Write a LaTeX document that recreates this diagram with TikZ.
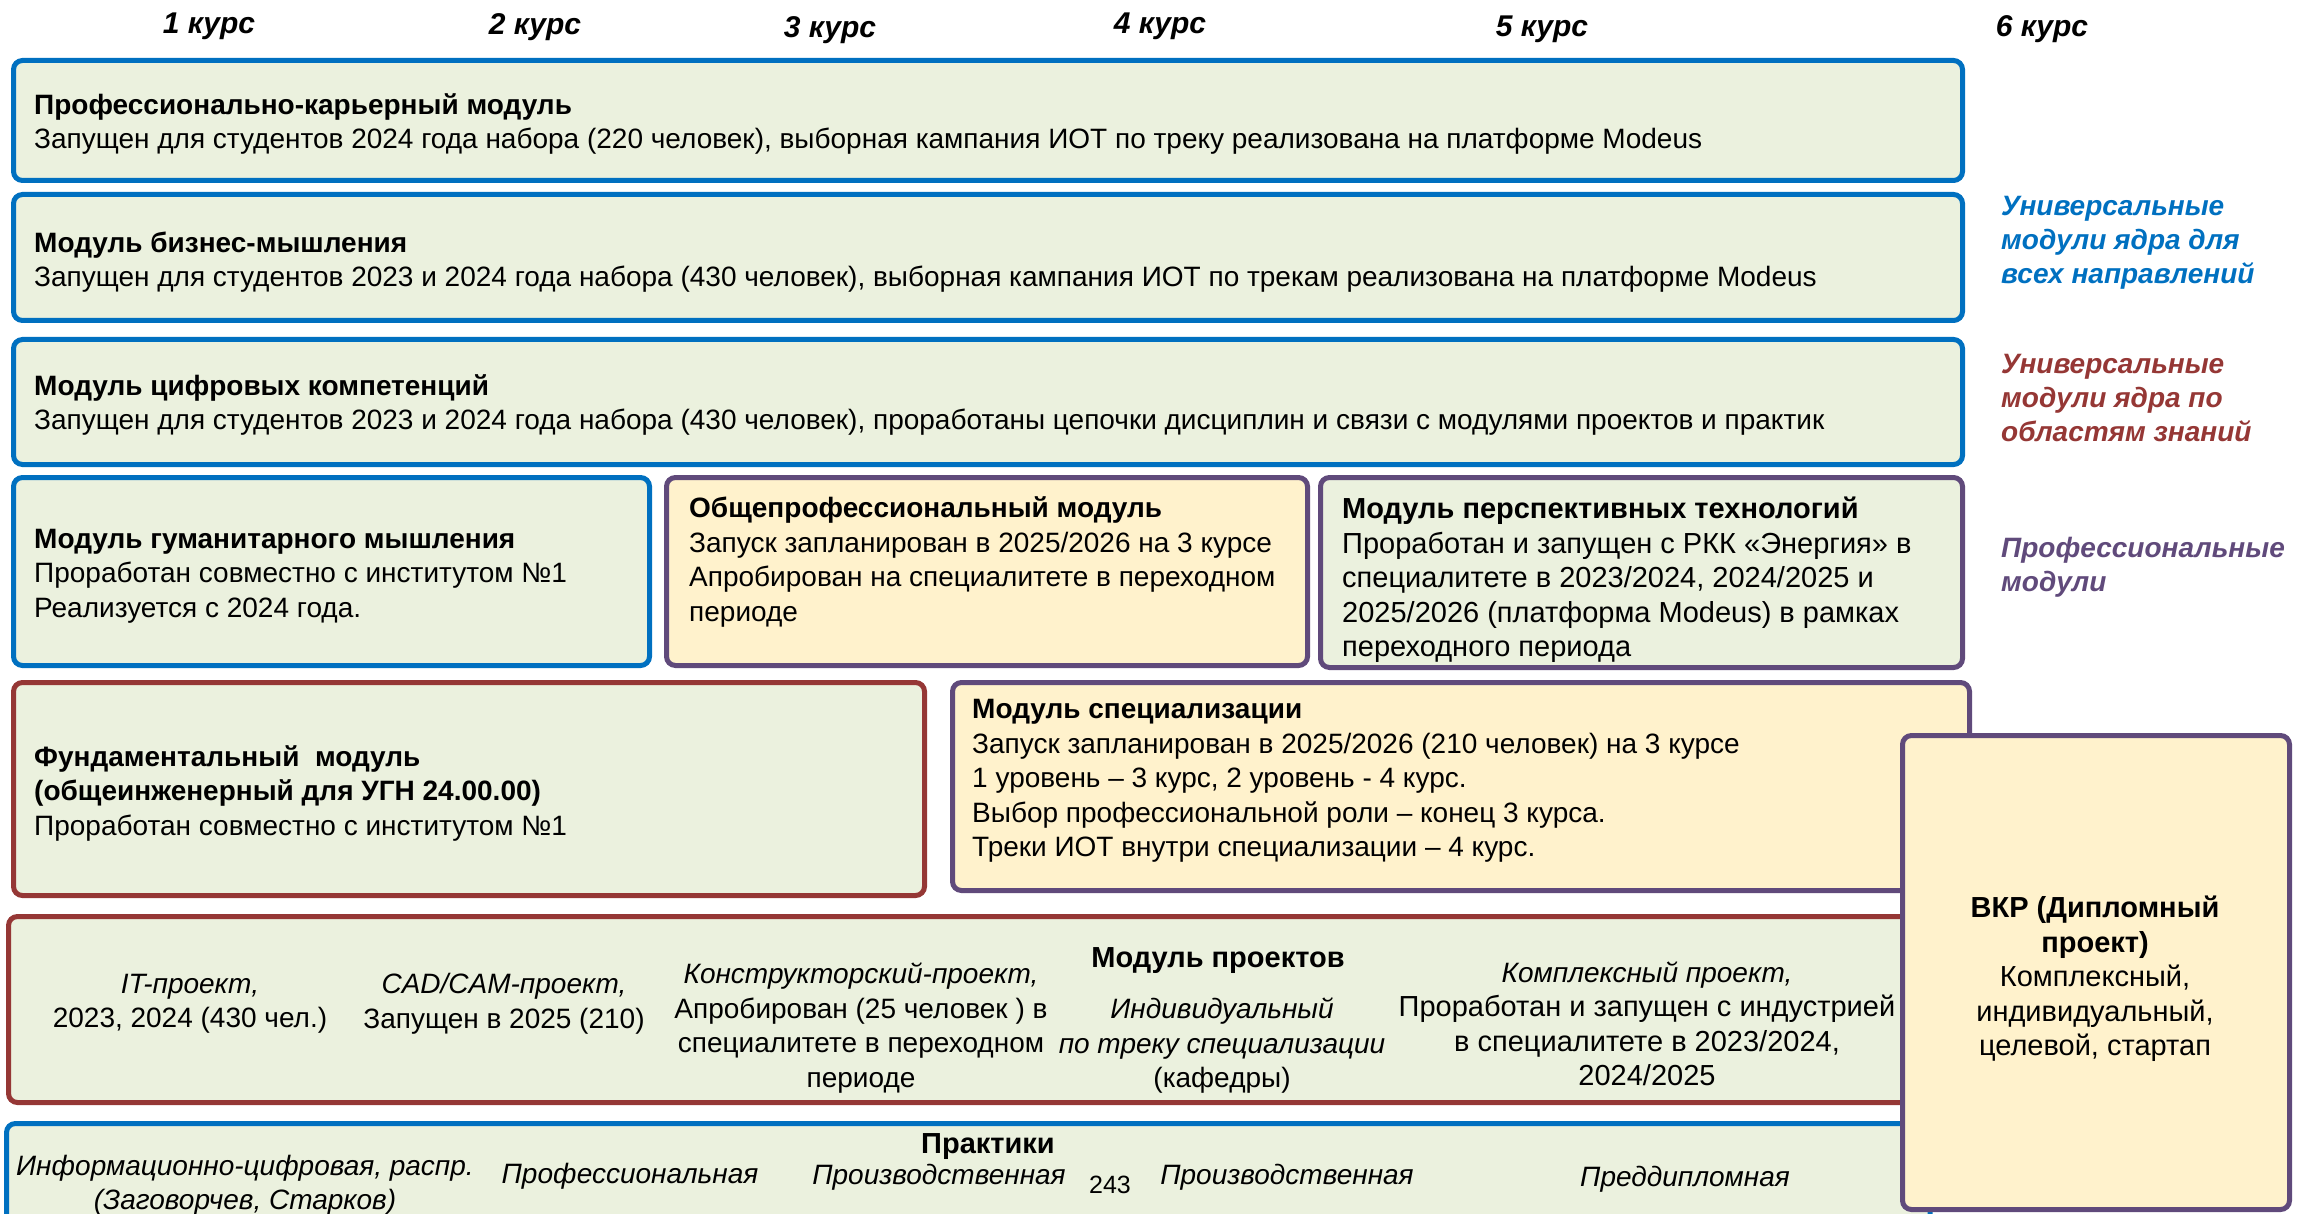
\documentclass[tikz,border=0pt]{standalone}
\usepackage{fontspec}
\setmainfont{Liberation Sans}
\usetikzlibrary{fit}
\definecolor{cblue}{RGB}{0,112,192}
\definecolor{cred}{RGB}{149,55,53}
\definecolor{cpurple}{RGB}{96,74,123}
\definecolor{cgreen}{RGB}{235,241,222}
\definecolor{cyellow}{RGB}{255,242,204}
\begin{document}
\begin{tikzpicture}[x=1pt,y=-1pt,
  box/.style={rounded corners=9pt, line width=5pt, inner sep=0pt},
  bluebox/.style={box, draw=cblue, fill=cgreen},
  redbox/.style={box, draw=cred, fill=cgreen},
  purplegreen/.style={box, draw=cpurple, fill=cgreen},
  purpleyellow/.style={box, draw=cpurple, fill=cyellow},
  txt/.style={font=\fontsize{28}{34.5}\selectfont, inner sep=0pt, align=left, anchor=west},
  bigtxt/.style={txt, font=\fontsize{29}{34.5}\selectfont},
  ctxt/.style={font=\fontsize{28}{34.5}\selectfont, inner sep=0pt, align=center},
  bigctxt/.style={ctxt, font=\fontsize{29}{34.5}\selectfont},
  head/.style={font=\fontsize{30}{34}\selectfont\bfseries\itshape, inner sep=0pt},
  side/.style={font=\fontsize{28}{34}\selectfont\bfseries\itshape, inner sep=0pt, align=left, anchor=west}
]
\useasboundingbox (0,0) rectangle (2312,1214);
\clip (0,0) rectangle (2312,1214);

% course headers
\node[head] (h1) at (209,26) {1 курс};
\node[head] (h2) at (535,27) {2 курс};
\node[head] (h3) at (830,30) {3 курс};
\node[head] (h4) at (1160,26) {4 курс};
\node[head] (h5) at (1542,29) {5 курс};
\node[head] (h6) at (2042,29) {6 курс};

% boxes
\node[bluebox, fit={(13.5,60.5) (1962.5,180.5)}] (b1) {};
\node[bluebox, fit={(13.5,194.5) (1962.5,320.5)}] (b2) {};
\node[bluebox, fit={(13.5,339.5) (1962.5,464.5)}] (b3) {};
\node[bluebox, fit={(13.5,477.5) (649.5,665.5)}] (b4) {};
\node[purpleyellow, fit={(666.5,477.5) (1307.5,665.5)}] (b5) {};
\node[purplegreen, fit={(1320.5,477.5) (1962.5,667.5)}] (b6) {};
\node[redbox, fit={(13.5,682.5) (924.5,895.5)}] (b7) {};
\node[purpleyellow, fit={(952.5,682.5) (1969.5,890.5)}] (b8) {};
\node[redbox, fit={(8.5,916.5) (1930,1102.5)}] (b9) {};
\node[bluebox, fit={(6.5,1123.5) (1930,1260)}] (b10) {};
\node[purpleyellow, fit={(1902.5,735.5) (2289.5,1209.5)}] (vkr) {};

% box texts
\node[txt] (t1) at (34,124) {\textbf{Профессионально-карьерный модуль}\\Запущен для студентов 2024 года набора (220 человек), выборная кампания ИОТ по треку реализована на платформе Modeus};
\node[txt] (t2) at (34,262) {\textbf{Модуль бизнес-мышления}\\Запущен для студентов 2023 и 2024 года набора (430 человек), выборная кампания ИОТ по трекам реализована на платформе Modeus};
\node[txt] (t3) at (34,405) {\textbf{Модуль цифровых компетенций}\\Запущен для студентов 2023 и 2024 года набора (430 человек), проработаны цепочки дисциплин и связи с модулями проектов и практик};
\node[txt] (t4) at (34,576) {\textbf{Модуль гуманитарного мышления}\\Проработан совместно с институтом №1\\Реализуется с 2024 года.};
\node[txt] (t5) at (689,562) {\textbf{Общепрофессиональный модуль}\\Запуск запланирован в 2025/2026 на 3 курсе\\Апробирован на специалитете в переходном\\периоде};
\node[bigtxt] (t6) at (1342,580) {\textbf{Модуль перспективных технологий}\\Проработан и запущен с РКК «Энергия» в\\специалитете в 2023/2024, 2024/2025 и\\2025/2026 (платформа Modeus) в рамках\\переходного периода};
\node[txt] (t7) at (34,793) {\textbf{Фундаментальный\ \ модуль}\\\textbf{(общеинженерный для УГН 24.00.00)}\\Проработан совместно с институтом №1};
\node[txt] (t8) at (972,781) {\textbf{Модуль специализации}\\Запуск запланирован в 2025/2026 (210 человек) на 3 курсе\\1 уровень – 3 курс, 2 уровень - 4 курс.\\Выбор профессиональной роли – конец 3 курса.\\Треки ИОТ внутри специализации – 4 курс.};

% projects module
\node[ctxt] (p1) at (190,1004) {\textit{IT-проект,}\\2023, 2024 (430 чел.)};
\node[ctxt] (p2) at (504,1004) {\textit{CAD/CAM-проект,}\\Запущен в 2025 (210)};
\node[ctxt] (p3) at (861,1028) {\textit{Конструкторский-проект,}\\Апробирован (25 человек ) в\\специалитете в переходном\\периоде};
\node[bigctxt] (p4) at (1218,961) {\textbf{Модуль проектов}};
\node[ctxt] (p5) at (1222,1046) {\textit{Индивидуальный}\\\textit{по треку специализации}\\(кафедры)};
\node[bigctxt] (p6) at (1647,1024) {{\fontsize{28}{34.5}\selectfont\itshape Комплексный проект,}\\Проработан и запущен с индустрией\\в специалитете в 2023/2024,\\2024/2025};

% practices
\node[bigctxt] (q0) at (988,1147) {\textbf{Практики}};
\node[ctxt] (q1) at (245,1185) {\textit{Информационно-цифровая, распр.}\\\textit{(Заговорчев, Старков)}};
\node[ctxt] (q2) at (630,1176) {\textit{Профессиональная}};
\node[ctxt] (q3) at (939,1177) {\textit{Производственная}};
\node[ctxt, font=\fontsize{25}{30}\selectfont] (q4) at (1110,1185) {243};
\node[ctxt] (q5) at (1287,1177) {\textit{Производственная}};
\node[ctxt] (q6) at (1685,1179) {\textit{Преддипломная}};

% VKR text
\node[bigctxt] (v1) at (2095,979) {\textbf{ВКР (Дипломный}\\\textbf{проект)}\\Комплексный,\\индивидуальный,\\целевой, стартап};

% side labels
\node[side, text=cblue] (s1) at (2001,243) {Универсальные\\модули ядра для\\всех направлений};
\node[side, text=cred] (s2) at (2001,398) {Универсальные\\модули ядра по\\областям знаний};
\node[side, text=cpurple] (s3) at (2001,567) {Профессиональные\\модули};
\end{tikzpicture}
\end{document}
